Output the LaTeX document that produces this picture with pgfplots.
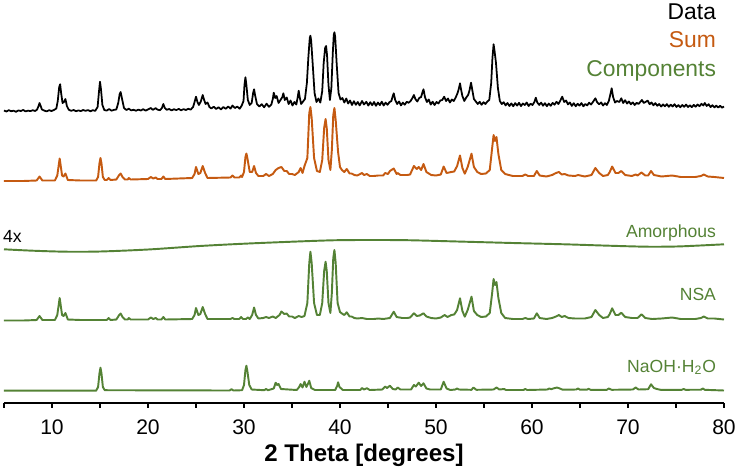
\documentclass[border=0pt]{standalone}
\usepackage{fontspec}
\setmainfont{Liberation Sans}
\usepackage{pgfplots}
\pgfplotsset{compat=1.18}
\definecolor{sumorange}{HTML}{C55A11}
\definecolor{compgreen}{HTML}{548235}

\begin{document}
\begin{tikzpicture}
\begin{axis}[
  scale only axis,
  width=14.4cm,
  height=8.06cm,
  xmin=5, xmax=80,
  ymin=0, ymax=403,
  axis x line*=bottom,
  axis y line=none,
  clip=false,
  xtick={10,20,...,80},
  minor xtick={5,15,...,75},
  tick align=outside,
  major tick length=0.09cm,
  minor tick length=0.09cm,
  tick style={black, line width=0.7pt},
  axis line style={black, line width=0.7pt},
  /pgf/number format/assume math mode=true,
  xticklabel style={font=\fontsize{12}{14}\selectfont, anchor=base, inner sep=0pt, yshift=-0.54cm},
  xlabel={2 Theta [degrees]},
  xlabel style={font=\bfseries\fontsize{13.7}{16}\selectfont, at={(axis description cs:0.5,0)}, anchor=base, inner sep=0pt, yshift=-1.16cm},
  every axis plot/.append style={line width=1.1pt, line join=round, mark=none},
]
% Data
\addplot[black, line width=1pt] coordinates {
(5.0,292.5)(5.25,291.5)(5.5,292.8)(5.75,291.8)(6.0,292.3)(6.25,291.2)(6.5,292.6)(6.75,292.0)(7.0,293.0)(7.25,291.6)
(7.5,292.4)(7.75,291.9)(8.0,292.8)(8.25,292.0)(8.45,293.5)(8.6,297)(8.7,300)(8.8,297.5)(8.95,293.5)(9.2,292.4)
(9.45,291.6)(9.7,292.8)(9.95,292.0)(10.2,293.0)(10.45,294.5)(10.6,302)(10.75,316)(10.85,318.7)(10.95,310)(11.1,300)
(11.25,301)(11.4,304)(11.55,297)(11.75,293.2)(12.0,292.2)(12.25,293.0)(12.5,291.8)(12.75,292.6)(13.0,291.9)(13.25,293.0)
(13.5,292.2)(13.75,292.9)(14.0,291.7)(14.25,292.8)(14.5,292.1)(14.75,296)(14.9,312)(15.0,321.3)(15.1,314)(15.25,298)
(15.45,293)(15.7,292.4)(15.95,294)(16.2,292.3)(16.45,293.1)(16.7,293.5)(16.9,300)(17.05,309)(17.15,311)(17.3,304)
(17.5,295)(17.75,293)(18.0,294.3)(18.25,292.6)(18.5,293.2)(18.75,292.3)(19.0,293.4)(19.25,292.5)(19.5,293.8)(19.75,292.4)
(20.0,293.6)(20.3,295.0)(20.5,293.2)(20.8,294.8)(21.0,293.3)(21.25,292.8)(21.45,295)(21.6,299)(21.75,295)(21.95,293.2)
(22.2,294.0)(22.45,292.6)(22.7,293.8)(22.95,292.9)(23.2,294.1)(23.45,292.7)(23.7,293.9)(23.95,293.0)(24.2,294.2)(24.45,293.4)
(24.7,296)(24.85,301)(25.0,306.3)(25.15,301)(25.3,298)(25.5,301.5)(25.7,308)(25.85,303)(26.0,299)(26.2,300.5)
(26.4,296)(26.6,294.5)(26.85,296.3)(27.1,294.0)(27.35,295.8)(27.6,293.6)(27.85,296.0)(28.1,294.2)(28.35,296.5)(28.6,294.4)
(28.8,297.5)(29.05,295.0)(29.3,296.4)(29.55,294.3)(29.75,297.2)(29.95,302)(30.05,318)(30.15,325.7)(30.25,318)(30.4,303)
(30.6,298)(30.8,300)(30.95,310)(31.05,313.7)(31.15,308)(31.35,299)(31.6,296.5)(31.85,298.8)(32.1,295.7)(32.35,299.3)
(32.6,296.2)(32.85,298.5)(33.0,304)(33.1,310.3)(33.25,305)(33.4,307)(33.6,300)(33.8,303)(34.0,306)(34.1,309.7)
(34.25,303)(34.45,305.5)(34.65,299)(34.85,302.5)(35.05,297.5)(35.25,301)(35.45,298.5)(35.6,306)(35.7,312.3)(35.8,306)
(35.95,299)(36.15,301.5)(36.35,304)(36.55,320)(36.7,345)(36.85,365)(36.92,367.3)(37.0,362)(37.15,340)(37.35,310)
(37.55,301)(37.75,304.5)(37.95,300.5)(38.15,312)(38.3,340)(38.45,355)(38.55,357)(38.65,348)(38.8,318)(38.95,303)
(39.1,315)(39.25,350)(39.35,368)(39.42,370.7)(39.5,366)(39.65,340)(39.85,310)(40.05,303.5)(40.25,305)(40.45,300.5)
(40.65,304.5)(40.85,299.5)(41.05,302.5)(41.25,298.0)(41.45,301.8)(41.65,298.2)(41.85,301.0)(42.05,297.6)(42.3,302.0)(42.5,298.5)
(42.75,301.2)(42.95,297.4)(43.15,300.8)(43.35,297.8)(43.55,301.0)(43.75,297.2)(43.95,300.5)(44.15,297.9)(44.35,301.3)(44.55,297.5)
(44.75,300.4)(44.95,298.2)(45.15,300.8)(45.35,302)(45.5,307)(45.6,309.7)(45.75,303)(45.95,299.0)(46.15,301.5)(46.35,297.6)
(46.55,300.4)(46.75,298.3)(46.95,301.2)(47.15,300.2)(47.35,302)(47.55,305)(47.7,308)(47.85,304)(48.05,301.5)(48.25,305)
(48.45,306)(48.6,311)(48.7,313.7)(48.85,306)(49.05,301)(49.25,303.5)(49.45,298.4)(49.65,301.3)(49.85,298.0)(50.05,301.0)
(50.25,299.5)(50.45,302.5)(50.65,303)(50.85,306.3)(51.05,302)(51.25,304.5)(51.45,300.5)(51.65,303.5)(51.85,302)(52.05,305.5)
(52.25,310)(52.4,315)(52.5,319.7)(52.6,314)(52.75,307)(52.95,302)(53.15,305.5)(53.35,308)(53.5,313)(53.65,320.3)
(53.8,312)(53.95,304)(54.15,301.5)(54.35,299)(54.55,301.2)(54.75,298.2)(54.95,300.8)(55.15,299.0)(55.35,301.5)(55.55,303)
(55.75,320)(55.88,345)(56.0,358.7)(56.1,352)(56.25,340)(56.45,315)(56.65,302)(56.85,299)(57.05,300.8)(57.25,297.6)
(57.45,300.0)(57.65,297.0)(57.85,299.6)(58.05,296.8)(58.25,299.9)(58.45,297.4)(58.65,300.2)(58.85,296.9)(59.05,299.5)(59.25,298.0)
(59.45,300.5)(59.65,297.0)(59.85,299.3)(60.05,298)(60.25,301)(60.4,305.3)(60.55,300.5)(60.75,298.1)(60.95,300.4)(61.15,297.3)
(61.35,299.8)(61.55,296.8)(61.75,299.4)(61.95,297.2)(62.15,300.1)(62.35,298.3)(62.55,301.2)(62.75,299.0)(62.95,302.4)(63.15,306.3)
(63.35,301.0)(63.55,302.5)(63.75,298.6)(63.95,300.5)(64.15,297.1)(64.35,299.8)(64.55,296.8)(64.75,299.2)(64.95,297.4)(65.15,299.9)
(65.35,296.7)(65.55,299.0)(65.75,297.6)(65.95,300.3)(66.15,298.5)(66.35,301)(66.6,304.7)(66.8,300.5)(67.0,298.7)(67.2,300.6)
(67.4,297.5)(67.6,299.8)(67.8,298.0)(68.0,302)(68.15,308)(68.3,314.7)(68.45,306)(68.65,300.5)(68.85,302)(69.1,301)
(69.3,304.7)(69.5,300)(69.7,302.8)(69.9,299.5)(70.1,301.5)(70.3,298.7)(70.5,300.6)(70.7,298.0)(70.9,300.2)(71.1,299.0)
(71.3,301.3)(71.45,303)(71.65,300)(71.85,301.2)(72.05,302.4)(72.25,298.8)(72.45,300.5)(72.65,297.7)(72.85,299.9)(73.05,297.2)
(73.25,299.0)(73.45,296.5)(73.65,298.6)(73.85,296.7)(74.05,298.9)(74.25,296.2)(74.45,298.3)(74.65,296.5)(74.85,298.8)(75.05,296.0)
(75.25,297.9)(75.45,295.8)(75.65,298.0)(75.85,296.2)(76.05,298.4)(76.25,296.0)(76.45,297.6)(76.65,295.9)(76.85,298.1)(77.05,296.3)
(77.25,298.5)(77.45,296.8)(77.65,299.2)(77.85,297.5)(78.0,300)(78.2,297.0)(78.4,298.8)(78.6,295.9)(78.8,297.8)(79.0,295.6)
(79.2,297.4)(79.4,295.4)(79.6,297.2)(79.8,295.3)(80.0,296.5)
};
% Sum
\addplot[sumorange] coordinates {
(5,222)(7,222)(8.4,222.5)(8.7,226.5)(9.0,222.5)(10.3,222.5)(10.55,227.5)(10.8,244.5)(11.05,227.5)(11.2,226.5)
(11.4,229.5)(11.65,223)(13,222.5)(14.6,222.5)(14.8,226)(14.95,240)(15.05,245)(15.15,240)(15.3,226)(15.5,223)
(15.7,223)(15.9,225)(16.1,223)(16.7,223.5)(17.0,228)(17.15,229.5)(17.35,226)(17.6,223.5)(17.9,223.5)(18.0,225)
(18.2,223.5)(20.0,224)(20.3,226)(20.55,224.5)(20.8,225.5)(21.0,224)(21.4,224)(21.6,226.5)(21.8,224)(24.6,225)
(24.85,229)(25.0,236)(25.25,229)(25.45,230)(25.7,237)(25.95,230)(26.2,225)(28.6,225.5)(28.8,227.5)(29.0,225.5)
(29.5,225.5)(29.7,227.5)(29.8,226)(30.0,231)(30.15,246)(30.25,249.5)(30.35,245)(30.6,231)(30.85,231)(31.05,237)
(31.25,230)(31.5,227)(32.0,227)(32.3,229)(32.6,227)(33.0,229)(33.3,233)(33.6,235)(33.9,236)(34.2,232)
(34.45,232)(34.7,229)(35.0,229)(35.3,228)(35.7,231)(35.9,235)(36.1,230)(36.3,237)(36.6,245)(36.8,290)
(36.92,296)(37.05,285)(37.3,245)(37.6,232)(37.9,231)(38.15,243)(38.35,275)(38.5,284)(38.62,275)(38.8,243)
(39.0,233)(39.15,253)(39.3,288)(39.42,295)(39.55,283)(39.8,251)(40.0,236)(40.2,233)(40.45,231)(40.7,234)
(41.0,229.5)(41.2,229.5)(41.5,228)(41.8,227.5)(42.3,230)(42.5,228)(42.8,229)(43.1,227)(43.5,227)(44.0,227.5)
(44.5,227.5)(44.7,230)(45.0,229)(45.2,232)(45.6,234.5)(45.9,229)(46.0,230)(46.3,228)(47.0,228)(47.3,228.5)
(47.7,237)(48.0,234)(48.2,236)(48.45,233)(48.7,239)(49.0,231)(49.5,228)(50.0,227.5)(50.5,228.5)(50.8,236.5)
(51.1,230)(51.6,231)(51.9,231.5)(52.2,237)(52.5,247.5)(52.75,235)(53.0,229.3)(53.3,236)(53.7,249.3)(53.95,236)
(54.3,231)(54.7,229)(55.2,229.5)(55.6,233)(55.85,255)(56.0,268)(56.15,262)(56.3,266)(56.5,249)(56.8,233)
(57.2,229)(58.0,227)(59.0,227)(59.3,228.5)(59.6,227)(60.2,227)(60.5,232)(60.8,227.5)(61.5,226.5)(62.1,228)
(62.5,230)(62.8,231)(63.1,228.5)(63.4,229)(63.8,227.5)(64.5,227)(64.8,228)(65.5,226.5)(66.2,228)(66.6,235)
(67.0,230)(67.4,227)(67.9,228)(68.1,231)(68.35,236.5)(68.7,230)(69.0,230)(69.3,232)(69.7,228)(70.4,227)
(70.8,228.5)(71.0,227.5)(71.4,230.5)(71.8,227.5)(72.1,227.5)(72.4,232)(72.7,228)(73.5,226.5)(74.6,227.5)(75.5,226)
(77.0,226)(77.6,227)(77.9,228.5)(78.3,226.5)(79.0,226)(80,225)
};
% Amorphous (4x)
\addplot[compgreen, smooth] coordinates {
(5,153.7)(8,152.3)(11.5,151.3)(15,151.5)(20,153.5)(25.4,157)(30,159.3)(35,161.3)(39.2,162.7)(42.6,163)
(47,162.8)(53,161.3)(58,160)(63.4,158.7)(68,157.3)(72,156.3)(75,156.5)(77.5,157.5)(80,158.7)
};
% NSA
\addplot[compgreen] coordinates {
(5,82.5)(7,82.5)(8.4,83)(8.7,87)(9.0,83)(10.3,83)(10.55,88)(10.8,105)(11.05,88)(11.2,87)
(11.4,90)(11.65,83.5)(13,83)(15.7,83)(15.9,85)(16.1,83)(16.7,83.5)(17.0,88)(17.15,89.5)(17.35,86)
(17.6,83.5)(17.9,83.5)(18.0,85)(18.2,83.5)(20.0,83.5)(20.3,85.5)(20.55,84)(20.8,85)(21.0,83.5)(21.4,83.5)
(21.6,86)(21.8,83.5)(24.6,84)(24.85,88)(25.0,95)(25.25,88)(25.45,89)(25.7,96)(25.95,89)(26.2,84)
(28.6,84)(28.8,85)(29.0,84)(29.5,84)(29.7,86)(29.9,84)(30.2,84)(30.4,85.5)(30.6,84)(30.85,88)
(31.05,95.5)(31.25,88)(31.5,84.5)(32.0,85)(32.3,86)(32.6,85)(33.0,86.5)(33.3,85)(33.7,88)(33.9,91.5)
(34.2,89)(34.45,89.5)(34.7,86.5)(35.0,86.5)(35.3,85)(35.7,87)(36.0,86)(36.3,87)(36.6,100)(36.8,140)
(36.92,151.3)(37.05,140)(37.3,100)(37.6,88)(37.9,88)(38.15,100)(38.35,132)(38.5,141.3)(38.62,132)(38.8,100)
(39.0,90)(39.15,110)(39.3,145)(39.42,153)(39.55,140)(39.75,100)(40.0,91)(40.2,89.5)(40.45,88)(40.7,90.7)
(41.0,86.5)(41.2,86.5)(41.5,85)(41.8,84.5)(42.3,85)(42.8,84)(43.5,84)(44.0,84.5)(44.5,84)(45.2,85)
(45.6,91.3)(45.9,86)(46.5,85)(47.0,85)(47.3,85.5)(47.7,89.7)(48.0,87)(48.3,87.5)(48.7,89.7)(49.0,86.5)
(49.5,85)(50.0,84.5)(50.5,85.5)(50.9,88)(51.2,86)(51.6,88)(51.9,88.5)(52.2,93)(52.5,104.7)(52.75,92)
(53.0,86.3)(53.3,93)(53.7,106.3)(53.95,92)(54.3,88)(54.7,86)(55.2,86.5)(55.6,90)(55.85,110)(56.0,124)
(56.15,118)(56.3,121)(56.5,105)(56.8,90)(57.2,85)(58.0,84)(59.0,84)(59.3,85)(59.6,84)(60.2,84.5)
(60.5,89.7)(60.8,85)(61.5,84)(62.1,85)(62.5,86.5)(62.8,88)(63.1,86)(63.4,87)(63.8,85)(64.5,84.5)
(65.5,84.5)(66.2,86)(66.6,93)(67.0,88)(67.4,85)(67.9,86)(68.1,89)(68.35,94.7)(68.7,88)(69.0,88)
(69.3,90.3)(69.7,86)(70.4,85)(71.0,85)(71.4,88.7)(71.8,85)(72.5,84)(73.5,84.5)(74.6,85.5)(75.5,84)
(77.0,84)(77.6,85)(77.9,86.5)(78.3,84.5)(79.0,84.5)(80,83.5)
};
% NaOH.H2O
\addplot[compgreen] coordinates {
(5,12.3)(14.6,12.3)(14.8,16)(14.95,30)(15.05,35.3)(15.15,30)(15.3,16)(15.5,12.8)(28.5,12.5)(28.7,13.8)
(28.9,12.5)(29.8,12.8)(30.0,18)(30.15,33)(30.25,37.3)(30.35,32)(30.55,18)(30.8,13.5)(32.1,12.8)(32.3,14)
(32.5,12.8)(33.1,14.5)(33.3,20.3)(33.45,18)(33.6,19)(33.85,14)(35.5,13)(35.75,16)(35.9,19)(36.1,15.5)
(36.3,21.3)(36.5,16)(36.7,20)(36.8,22.3)(37.0,15)(37.4,13)(39.5,13)(39.7,17)(39.8,20.7)(39.95,16)
(40.3,13)(42.1,13)(42.3,15)(42.5,13.5)(42.8,14.8)(43.1,13)(44.4,13.5)(44.7,16.5)(44.9,15)(45.2,17.3)
(45.5,14)(45.8,13.5)(46.0,15.5)(46.3,13.5)(47.4,13.5)(47.7,18)(47.9,16.5)(48.2,20.3)(48.45,17)(48.7,19.7)
(49.0,14.5)(49.4,13.5)(50.5,13.5)(50.8,21.3)(51.1,14.5)(51.5,13)(52.0,13.5)(52.2,14.5)(52.4,13.5)(53.7,13.2)
(53.9,15.5)(54.2,13.2)(56.0,13.5)(56.3,15.5)(56.6,13.5)(57.1,14)(57.3,13)(59.1,13)(59.3,14)(59.5,13)
(61.6,13.5)(61.8,14.5)(62.0,13.8)(62.2,14.5)(62.6,15.5)(62.9,14.5)(63.2,13.3)(64.6,13.5)(64.8,14.5)(65.0,13.3)
(65.7,13.3)(65.9,14.2)(66.1,13.2)(67.8,13.2)(68.0,14.5)(68.3,13.2)(70.5,13.5)(70.8,15.5)(71.1,13.5)(72.1,13.8)
(72.4,18.7)(72.7,15)(73.0,14)(73.4,13.2)(75.6,13.2)(75.8,14)(76.0,13.2)(77.6,13.3)(77.8,14.5)(78.0,13.2)
(80,12.5)
};
\begin{scope}[every node/.style={font=\fontsize{13}{15}\selectfont, inner sep=0pt, anchor=base east}]
\node[text=black] at (axis cs:79.2,383.7) {Data};
\node[text=sumorange] at (axis cs:79.2,355.3) {Sum};
\node[text=compgreen] at (axis cs:79.2,326.3) {Components};
\end{scope}
\begin{scope}[every node/.style={font=\fontsize{10}{12}\selectfont, inner sep=0pt, anchor=base east}]
\node[text=compgreen] at (axis cs:79.2,165.3) {Amorphous};
\node[text=compgreen] at (axis cs:79.2,103) {NSA};
\node[text=compgreen] at (axis cs:79.2,30.7) {NaOH·H\textsubscript{2}O};
\node[text=black, anchor=base west] at (axis cs:4.86,160.3) {4x};
\end{scope}
\end{axis}
\pgfresetboundingbox
\useasboundingbox (-0.08,-1.34) rectangle (14.62,8.06);
\end{tikzpicture}
\end{document}
